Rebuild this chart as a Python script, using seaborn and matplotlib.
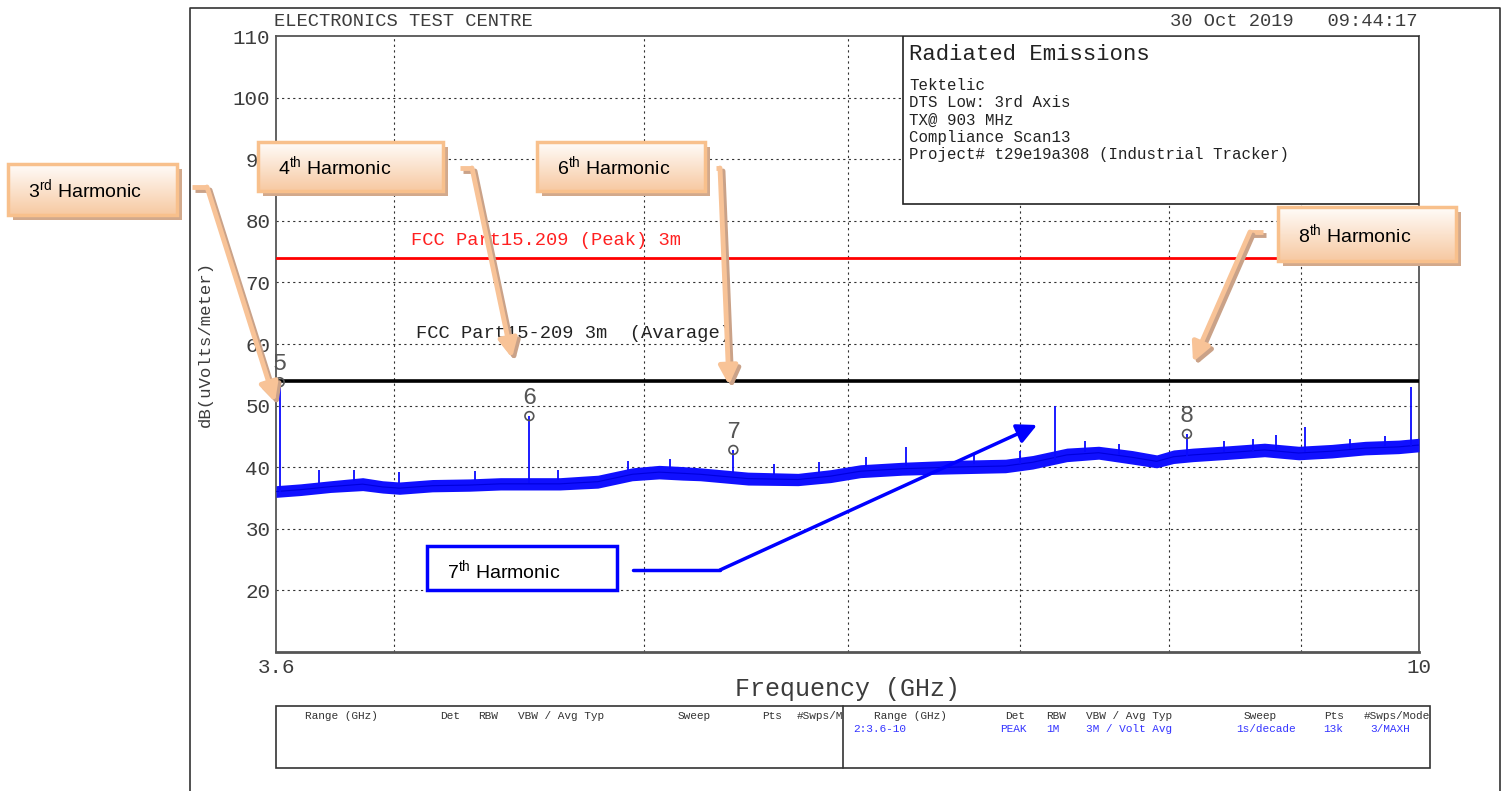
import numpy as np
import pandas as pd
import seaborn as sns
import matplotlib.pyplot as plt
from matplotlib.patches import Rectangle
from matplotlib.colors import LinearSegmentedColormap

# Datos
freq_ghz = [3.60, 3.68, 3.78, 3.89, 3.96, 4.02, 4.14, 4.28, 4.40, 4.47, 4.64, 4.80, 4.95,
            5.07, 5.18, 5.26, 5.49, 5.74, 5.91, 6.07, 6.30, 6.57, 6.91, 7.08, 7.30, 7.51,
            7.74, 7.91, 8.03, 8.17, 8.45, 8.71, 8.98, 9.25, 9.53, 9.82, 10.0]
floor_low = [35.1, 35.4, 35.9, 36.2, 35.8, 35.6, 36.0, 36.1, 36.3, 36.3, 36.3, 36.6, 37.8,
             38.1, 37.9, 37.8, 37.1, 37.0, 37.5, 38.3, 38.7, 38.9, 39.1, 39.7, 40.9, 41.3,
             40.5, 39.9, 40.6, 40.9, 41.3, 41.7, 41.2, 41.5, 42.0, 42.2, 42.5]
floor_high = [37.0, 37.3, 37.8, 38.3, 37.8, 37.6, 38.0, 38.1, 38.3, 38.3, 38.3, 38.7, 39.9,
              40.3, 40.1, 39.9, 39.2, 39.0, 39.6, 40.4, 40.8, 41.1, 41.3, 41.9, 43.1, 43.4,
              42.7, 42.0, 42.8, 43.1, 43.5, 43.9, 43.4, 43.7, 44.2, 44.4, 44.7]

spike_freq = [3.612, 3.74, 3.86, 4.02, 4.30, 4.515, 4.63, 4.93, 5.12, 5.418, 5.62, 5.85, 6.10,
              6.321, 6.72, 7.00, 7.224, 7.42, 7.65, 8.127, 8.40, 8.62, 8.80, 9.03, 9.40, 9.70, 9.933]
spike_base = [36.0, 37.5, 37.8, 37.5, 38.0, 37.5, 38.0, 39.5, 39.7, 39.0, 38.8, 39.0, 40.0,
              40.2, 40.6, 40.6, 41.2, 42.5, 42.0, 41.8, 42.4, 42.6, 42.8, 42.4, 43.0, 43.3, 43.5]
spike_peak = [53.8, 39.6, 39.5, 39.2, 39.4, 48.3, 39.6, 41.0, 41.4, 42.8, 40.6, 40.8, 41.6,
              43.3, 42.2, 42.6, 49.9, 44.2, 43.8, 45.4, 44.2, 44.5, 45.2, 46.5, 44.6, 45.0, 53.0]

marker_ids = ["5", "6", "7", "8"]
marker_freq = [3.612, 4.515, 5.418, 8.127]
marker_level = [53.8, 48.3, 42.8, 45.4]

peak_limit = 74
avg_limit = 54
y_ticks = [20, 30, 40, 50, 60, 70, 80, 90, 100, 110]
grid_freq = [4, 5, 6, 7, 8, 9]

info_lines = ["Tektelic", "DTS Low: 3rd Axis", "TX@ 903 MHz", "Compliance Scan13",
              "Project# t29e19a308 (Industrial Tracker)"]
table_head = ["Range (GHz)", "Det", "RBW", "VBW / Avg Typ", "Sweep", "Pts", "#Swps/Mode"]
table_vals = ["2:3.6-10", "PEAK", "1M", "3M / Volt Avg", "1s/decade", "13k", "3/MAXH"]

trace = pd.DataFrame({"freq": freq_ghz, "low": floor_low, "high": floor_high})
trace["mid"] = (trace["low"] + trace["high"]) / 2

sns.set_style("white")
plt.rcParams["font.family"] = ["Liberation Mono", "DejaVu Sans Mono"]
plt.rcParams["mathtext.fontset"] = "custom"
plt.rcParams["mathtext.rm"] = "Liberation Sans"
plt.rcParams["mathtext.it"] = "Liberation Sans:italic"

W, H = 1507, 791
fig = plt.figure(figsize=(W / 100, H / 100), dpi=100)
ax = fig.add_axes([276 / W, (H - 652) / H, 1143 / W, 616 / H])
txt = "#3c3c3c"

ax.set_xscale("log")
ax.set_xlim(3.6, 10)
ax.set_ylim(10, 110)

# rejilla
for f in grid_freq:
    ax.axvline(f, color="#333333", lw=0.8, ls=(0, (2, 3)), zorder=1)
for y in y_ticks[:-1]:
    ax.axhline(y, color="#333333", lw=0.8, ls=(0, (2, 3)), zorder=1)

# traza
ax.fill_between(trace["freq"], trace["low"], trace["high"], color="#1010ff", lw=0, zorder=3)
sns.lineplot(data=trace, x="freq", y="mid", ax=ax, color="#0000dd", lw=0.8, zorder=3)
ax.vlines(spike_freq, spike_base, spike_peak, color="#0a0aff", lw=1.3, zorder=3)

# limites
ax.axhline(peak_limit, color="#ff0000", lw=2, zorder=4)
ax.axhline(avg_limit, color="black", lw=2.6, zorder=4)
ax.text(4.06, peak_limit + 1.5, "FCC Part15.209 (Peak) 3m", color="#ff2020", fontsize=13.5,
        va="bottom", zorder=5)
ax.text(4.08, 60.3, "FCC Part15-209 3m  (Avarage)", color="#222222", fontsize=13.5,
        va="bottom", zorder=5)

# marcadores
ax.scatter(marker_freq, marker_level, s=40, facecolor="none", edgecolor="#555555", lw=1.2, zorder=6)
for m, f, v in zip(marker_ids, marker_freq, marker_level):
    ax.text(f, v + 1.2, m, ha="center", va="bottom", fontsize=17, color="#555555", zorder=6)

# ejes
ax.set_yticks(y_ticks)
ax.set_yticklabels([str(v) for v in y_ticks])
ax.set_xticks([3.6, 10])
ax.set_xticklabels(["3.6", "10"])
ax.xaxis.set_minor_locator(plt.NullLocator())
ax.tick_params(length=0, labelsize=15, labelcolor=txt, pad=4)
for s in ax.spines.values():
    s.set_color("#555555")
    s.set_linewidth(1.3)
ax.spines["bottom"].set_linewidth(2)
ax.set_xlabel("Frequency (GHz)", fontsize=18, color=txt)
ax.set_ylabel("dB(uVolts/meter)", fontsize=12.5, color=txt)
ax.xaxis.set_label_coords(0.5, -(677 - 652) / 616)
ax.yaxis.set_label_coords((213 - 276) / 1143, 0.5)

# cuadro de informacion
ax.add_patch(Rectangle((0.5486, 0.727), 0.4514, 0.273, transform=ax.transAxes,
                       facecolor="white", edgecolor="#222222", lw=1.2, zorder=7))

# capa superior en pixeles
ov = fig.add_axes([0, 0, 1, 1], zorder=10)
ov.set_xlim(0, W)
ov.set_ylim(H, 0)
ov.set_autoscale_on(False)
ov.axis("off")

ov.plot([190, 190, 1500, 1500], [H, 8, 8, H], color="#333333", lw=1.2)
ov.text(274, 22, "ELECTRONICS TEST CENTRE", fontsize=13.5, color=txt, va="center")
ov.text(1417, 22, "30 Oct 2019   09:44:17", fontsize=13.5, color=txt, va="center", ha="right")

ov.text(909, 55, "Radiated Emissions", fontsize=16, color="#222222", va="center")
for i, line in enumerate(info_lines):
    ov.text(909, 85 + i * 17.5, line, fontsize=11.3, color="#222222", va="center")

# tabla inferior
ov.add_patch(Rectangle((276, 706), 1154, 62, fill=False, edgecolor="#333333", lw=1.2))
ov.plot([843, 843], [706, 768], color="#333333", lw=1.2)
head_x_left = [305, 440, 478, 518, 678, 762, 797]
head_x_right = [874, 1005, 1046, 1086, 1244, 1324, 1364]
val_x = [853, 1000, 1046, 1086, 1236, 1323, 1370]
left_clip = Rectangle((276, 700), 566, 70, transform=ov.transData)
for x, h in zip(head_x_left, table_head):
    t = ov.text(x, 716, h, fontsize=8, color="#333333", va="center", clip_on=True)
    t.set_clip_path(left_clip)
for x, h in zip(head_x_right, table_head):
    ov.text(x, 716, h, fontsize=8, color="#333333", va="center")
for x, v in zip(val_x, table_vals):
    ov.text(x, 729, v, fontsize=8, color="#3535ff", va="center")

# llamadas
peach = LinearSegmentedColormap.from_list("peach", ["#fffcf9", "#f7c9a2"])
grad = np.linspace(0, 1, 64).reshape(-1, 1)
arrow_c, shadow_c = "#f8c397", "#caa288"


def callout(x0, y0, x1, y1, label):
    ov.add_patch(Rectangle((x0 + 5, y0 + 5), x1 - x0, y1 - y0, color="#d2a98c", lw=0, zorder=2))
    im = ov.imshow(grad, extent=(x0, x1, y1, y0), cmap=peach, aspect="auto",
                   origin="upper", zorder=3)
    box = Rectangle((x0, y0), x1 - x0, y1 - y0, fill=False, edgecolor="#f8c08c", lw=2.5, zorder=4)
    ov.add_patch(box)
    im.set_clip_path(box)
    ov.text(x0 + 20, (y0 + y1) / 2, label, fontsize=14, family="Liberation Sans",
            va="center", color="black", zorder=5)


def peach_arrow(pts):
    for off, c in [(3, shadow_c), (0, arrow_c)]:
        xs = [p[0] + off for p in pts]
        ys = [p[1] + off for p in pts]
        ov.plot(xs[:-1], ys[:-1], color=c, lw=3.5, solid_capstyle="butt")
        ov.annotate("", xy=(xs[-1], ys[-1]), xytext=(xs[-2], ys[-2]),
                    arrowprops=dict(arrowstyle="-|>", color=c, lw=3.5, mutation_scale=28,
                                    shrinkA=0, shrinkB=0))


peach_arrow([(192, 187), (207, 187), (275, 402)])
peach_arrow([(460, 168), (472, 168), (512, 358)])
peach_arrow([(716, 168), (720, 168), (729, 385)])
peach_arrow([(1263, 232), (1250, 232), (1193, 362)])

callout(8, 164, 177, 215, r"3$^{\mathrm{rd}}$ Harmonic")
callout(258, 142, 443, 191, r"4$^{\mathrm{th}}$ Harmonic")
callout(537, 142, 705, 191, r"6$^{\mathrm{th}}$ Harmonic")
callout(1278, 207, 1456, 261, r"8$^{\mathrm{th}}$ Harmonic")

# llamada azul
ov.add_patch(Rectangle((427, 546), 190, 44, facecolor="white", edgecolor="#0000ff", lw=2.5))
ov.text(447, 570, r"7$^{\mathrm{th}}$ Harmonic", fontsize=14, family="Liberation Sans",
        va="center", color="black")
ov.plot([633, 720], [570, 570], color="#0000ff", lw=2.5)
ov.annotate("", xy=(1037, 425), xytext=(720, 570),
            arrowprops=dict(arrowstyle="-|>", color="#0000ff", lw=2.5, mutation_scale=30,
                            shrinkA=0, shrinkB=0))

fig.savefig("out.png", dpi=100)
